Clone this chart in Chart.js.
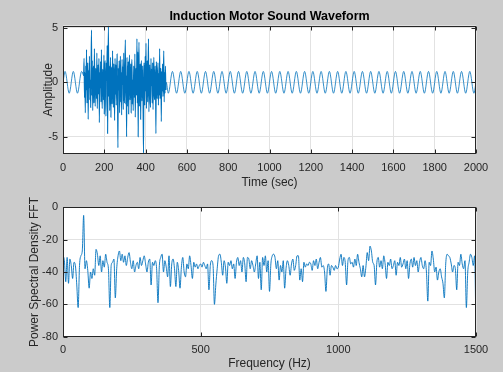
<!DOCTYPE html>
<html><head><meta charset="utf-8">
<script src="https://cdn.jsdelivr.net/npm/chart.js@4.4.0/dist/chart.umd.min.js"></script>
<style>
html,body{margin:0;padding:0;background:#cbcbcb;width:503px;height:372px;overflow:hidden}
canvas{position:absolute;left:0}
#c1{top:0}
#c2{top:190px}
</style></head><body>
<canvas id="c1" width="503" height="190"></canvas>
<canvas id="c2" width="503" height="182"></canvas>
<script>
// ---------- Top plot: sound waveform ----------
const leadT = [0, 10, 30, 50, 70, 90];
const leadY = [0, 1, -1, 1, -1, 1];

const noiseStart = 100, noiseStep = 2;
const noiseY = [
 0.6, 2.2,-1.4, 0.9,-2.8, 1.5,-0.7, 3.0,-1.9, 0.4,
 1.8,-3.4, 1.1,-0.5, 2.4,-1.6, 0.2,-2.3, 1.7, 4.8,
-1.2, 2.0,-2.6, 0.8, 1.5,-1.9, 3.1,-0.4,-2.2, 1.3,
 0.6,-1.5, 2.7,-2.4, 0.3, 1.6,-1.1, 2.2,-3.7, 0.9,
-0.5, 1.9,-1.8, 3.0,-0.8,-2.4, 1.2, 0.5,-1.6, 2.5,
-2.9, 1.1, 2.0,-0.9,-3.1, 1.8, 0.2, 3.4,-4.7, 1.2,
 5.2,-1.3, 1.5,-2.6, 0.4, 2.3,-3.2, 0.8, 1.4,-2.0,
 2.9,-0.6,-2.3, 1.7, 0.1,-3.5, 2.2,-1.1, 1.6,-2.1,
 1.0, 2.6,-1.5,-6.0, 1.3,-0.7, 2.0,-2.8, 0.5, 2.4,
-1.8, 0.9,-3.0, 2.1,-0.2, 1.4,-2.5, 2.7,-1.0,-1.9,
 1.6, 3.9,-2.0, 0.6,-5.0, 2.3,-2.2, 0.3, 1.9,-2.9,
 1.1, 2.5,-1.6,-0.4, 1.7,-2.8, 1.2, 2.1,-2.0, 0.2,
-2.6, 1.5, 0.7,-1.4, 2.6,-3.2, 0.6, 1.3,-1.2, 4.0,
-1.9, 2.8,-5.0, 0.9, 3.7,-2.2, 0.1, 1.7,-3.4, 1.1,
 2.0,-1.7,-0.6, 1.5,-2.8,-6.5, 1.8, 0.8,-2.1, 2.4,
-0.8, 3.6,-2.4, 0.4, 2.0,-1.8, 1.0, 4.0,-2.7, 0.3,
 1.6,-1.4,-2.3, 2.2,-0.3, 1.2,-1.9, 1.8,-2.5, 0.7,
 2.3,-1.1,-1.6, 1.5,-0.2,-4.7, 1.9, 0.7,-1.5, 0.4,
 1.8,-2.1, 0.8,-1.2, 3.1,-1.5, 0.6, 1.3,-3.6, 1.0,
-0.8, 1.7,-1.3, 0.5, 2.9,-1.8, 0.9,-1.0, 1.5,-0.7
];

const toneT = [500,
 510,530,550,570,590,610,630,650,670,690,
 710,730,750,770,790,810,830,850,870,890,
 910,930,950,970,990,1010,1030,1050,1070,1090,
 1110,1130,1150,1170,1190,1210,1230,1250,1270,1290,
 1310,1330,1350,1370,1390,1410,1430,1450,1470,1490,
 1510,1530,1550,1570,1590,1610,1630,1650,1670,1690,
 1710,1730,1750,1770,1790,1810,1830,1850,1870,1890,
 1910,1930,1950,1970,1990,
 2000];
const toneY = [0,
 -1,1,-1,1,-1,1,-1,1,-1,1,
 -1,1,-1,1,-1,1,-1,1,-1,1,
 -1,1,-1,1,-1,1,-1,1,-1,1,
 -1,1,-1,1,-1,1,-1,1,-1,1,
 -1,1,-1,1,-1,1,-1,1,-1,1,
 -1,1,-1,1,-1,1,-1,1,-1,1,
 -1,1,-1,1,-1,1,-1,1,-1,1,
 -1,1,-1,1,-1,
 0];

const timeTicks = [0,200,400,600,800,1000,1200,1400,1600,1800,2000];
const ampTicks = [-5, 0, 5];

// ---------- Bottom plot: spectrum ----------
const freqStep = 5;
const psd = [
-30,-33,-46,-31,-47,-32,-36,-44,-34,-36,
-48,-62,-36,-30,-27,-5,-38,-33,-39,-50,
-40,-44,-38,-42,-26,-29,-36,-30,-40,-33,
-37,-29,-34,-38,-62,-36,-34,-32,-56,-38,
-30,-27,-33,-29,-34,-30,-36,-31,-28,-34,
-38,-33,-40,-36,-34,-38,-31,-36,-33,-30,
-35,-40,-34,-32,-48,-34,-36,-33,-38,-59,
-36,-31,-29,-40,-33,-37,-43,-30,-49,-35,
-32,-38,-49,-34,-39,-50,-37,-31,-40,-43,
-35,-38,-30,-36,-44,-34,-37,-35,-38,-36,
-35,-37,-34,-36,-38,-35,-51,-36,-33,-36,
-60,-48,-38,-30,-29,-34,-42,-33,-37,-47,
-34,-36,-33,-38,-35,-44,-34,-31,-36,-33,
-40,-31,-35,-46,-31,-32,-38,-33,-36,-40,
-35,-30,-44,-34,-51,-31,-36,-30,-40,-33,
-52,-35,-30,-29,-31,-38,-33,-45,-36,-40,
-33,-50,-38,-33,-36,-42,-35,-32,-39,-36,
-30,-30,-45,-38,-46,-34,-37,-35,-36,-34,
-35,-39,-33,-36,-32,-38,-34,-31,-37,-36,
-40,-52,-38,-35,-42,-36,-37,-39,-36,-38,
-37,-32,-29,-36,-31,-34,-48,-33,-31,-35,
-34,-37,-32,-36,-29,-34,-38,-43,-36,-43,
-37,-28,-33,-24,-27,-34,-36,-48,-34,-31,
-37,-33,-38,-30,-35,-44,-34,-36,-32,-38,
-36,-33,-42,-34,-36,-31,-37,-35,-32,-38,
-33,-44,-35,-32,-37,-31,-36,-33,-40,-34,
-31,-36,-38,-33,-40,-58,-34,-36,-27,-32,
-40,-37,-45,-40,-38,-43,-47,-56,-35,-29,
-30,-31,-35,-40,-36,-38,-51,-34,-36,-29,
-35,-38,-33,-62,-40,-34,-29,-31,-36,-30,
-78
];
const freqTicks = [0, 500, 1000, 1500];
const psdTicks = [0, -20, -40, -60, -80];

// ---------- styling helpers ----------
const FONT = "'Liberation Sans', Arial, sans-serif";
const LINE = '#0072BD';
const AXC = '#262626';
const GRID = '#e2e2e2';

const frame = {
  id: 'frame',
  beforeDraw(chart) {
    const {ctx, chartArea: a} = chart;
    ctx.save();
    ctx.fillStyle = '#ffffff';
    ctx.fillRect(a.left, a.top, a.right - a.left, a.bottom - a.top);
    ctx.restore();
  },
  afterDraw(chart) {
    const {ctx, chartArea: a, scales} = chart;
    ctx.save();
    ctx.strokeStyle = AXC;
    ctx.lineWidth = 1;
    const L = Math.round(a.left) + 0.5, R = Math.round(a.right) - 0.5;
    const T = Math.round(a.top) + 0.5, B = Math.round(a.bottom) - 0.5;
    ctx.strokeRect(L, T, R - L, B - T);
    ctx.beginPath();
    scales.x.ticks.forEach(t => {
      const px = Math.round(scales.x.getPixelForValue(t.value)) + 0.5;
      ctx.moveTo(px, B); ctx.lineTo(px, B - 4);
      ctx.moveTo(px, T); ctx.lineTo(px, T + 4);
    });
    scales.y.ticks.forEach(t => {
      const py = Math.round(scales.y.getPixelForValue(t.value)) + 0.5;
      ctx.moveTo(L, py); ctx.lineTo(L + 4, py);
      ctx.moveTo(R, py); ctx.lineTo(R - 4, py);
    });
    ctx.stroke();
    ctx.restore();
  }
};

function xScale(min, max, ticks, label, height, titlePadBottom) {
  return {
    type: 'linear', min, max,
    afterBuildTicks: s => { s.ticks = ticks.map(v => ({value: v})); },
    afterFit: s => { s.height = height; },
    grid: {color: GRID, drawTicks: false},
    border: {display: false},
    ticks: {padding: 7, color: AXC, font: {family: FONT, size: 11}, maxRotation: 0, autoSkip: false,
            callback: v => String(v)},
    title: {display: true, text: label, color: AXC, font: {family: FONT, size: 12},
            padding: {top: 0, bottom: titlePadBottom}}
  };
}
function yScale(min, max, ticks, label, titlePadTop) {
  return {
    type: 'linear', min, max,
    afterBuildTicks: s => { s.ticks = ticks.map(v => ({value: v})); },
    afterFit: s => { s.width = 63; },
    grid: {color: GRID, drawTicks: false},
    border: {display: false},
    ticks: {padding: 5, color: AXC, font: {family: FONT, size: 11}, autoSkip: false,
            callback: v => String(v)},
    title: {display: true, text: label, color: AXC, font: {family: FONT, size: 12},
            padding: {top: titlePadTop, bottom: 0}}
  };
}

// ---------- build data ----------
const noisePts = noiseY.map((v, i) => ({x: noiseStart + i * noiseStep, y: v}));
const leadPts = leadT.map((t, i) => ({x: t, y: leadY[i]})).concat([noisePts[0]]);
const tonePts = [noisePts[noisePts.length - 1]].concat(toneT.map((t, i) => ({x: t, y: toneY[i]})));

const spec = psd.map((v, i) => ({x: i * freqStep, y: v}));

const lineDs = (data, w) => ({data, borderColor: LINE, borderWidth: w, pointRadius: 0,
                             cubicInterpolationMode: 'monotone', fill: false});

new Chart(document.getElementById('c1'), {
  type: 'line',
  data: {datasets: [lineDs(leadPts, 0.8), lineDs(noisePts, 1.1), lineDs(tonePts, 0.8)]},
  options: {
    responsive: false, animation: false, events: [],
    layout: {padding: {left: 0, right: 27, top: 0, bottom: 0}},
    plugins: {
      legend: {display: false}, tooltip: {enabled: false},
      title: {display: true, text: 'Induction Motor Sound Waveform', color: '#000',
              fullSize: false, font: {family: FONT, size: 12.5, weight: 'bold'},
              padding: {top: 9, bottom: 1.6}}
    },
    scales: {
      x: xScale(0, 2000, timeTicks, 'Time (sec)', 36, 0),
      y: yScale(-6.58, 5.21, ampTicks, 'Amplitude', 41)
    }
  },
  plugins: [frame]
});

new Chart(document.getElementById('c2'), {
  type: 'line',
  data: {datasets: [lineDs(spec, 0.9)]},
  options: {
    responsive: false, animation: false, events: [],
    layout: {padding: {left: 0, right: 27, top: 17.3, bottom: 0}},
    plugins: {legend: {display: false}, tooltip: {enabled: false}},
    scales: {
      x: xScale(0, 1500, freqTicks, 'Frequency (Hz)', 35.3, 1),
      y: yScale(-80, 0, psdTicks, 'Power Spectral Density FFT', 27.3)
    }
  },
  plugins: [frame]
});
</script></body></html>
